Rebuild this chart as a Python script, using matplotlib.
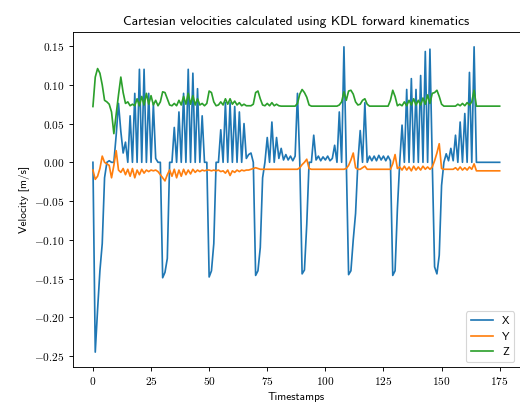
import numpy as np
import matplotlib
matplotlib.use("Agg")
import matplotlib.pyplot as plt
from matplotlib.ticker import FuncFormatter

x_vel = [
    0.0, -0.245, -0.19, -0.14, -0.105, -0.02, 0.0, 0.002, 0.0, 0.0,
    0.035, 0.076, 0.04, 0.012, 0.026, 0.0, 0.06, 0.0, 0.089, 0.0,
    0.12, 0.0, 0.12, 0.0, 0.089, 0.0, 0.075, 0.005, 0.0, 0.0,
    -0.149, -0.142, -0.124, 0.0, 0.0, 0.045, 0.0, 0.065, 0.0, 0.089,
    0.0, 0.12, 0.0, 0.115, 0.0, 0.095, 0.0, 0.06, 0.0, 0.0,
    -0.148, -0.14, -0.105, 0.0, 0.0, 0.042, 0.0, 0.077, 0.0, 0.077,
    0.0, 0.072, 0.0, 0.065, 0.0, 0.05, 0.005, 0.01, 0.012, 0.0,
    -0.146, -0.14, -0.11, -0.02, 0.0, 0.032, 0.0, 0.052, 0.0, 0.032,
    0.005, 0.018, 0.003, 0.01, 0.003, 0.008, 0.002, 0.008, 0.089, 0.0,
    -0.144, -0.139, -0.08, 0.0, 0.0, 0.035, 0.003, 0.008, 0.002, 0.007,
    0.003, 0.008, 0.002, 0.005, 0.022, 0.0, 0.065, 0.0, 0.149, 0.0,
    -0.145, -0.14, -0.1, -0.066, 0.0, 0.041, 0.0, 0.077, 0.0, 0.008,
    0.002, 0.008, 0.002, 0.009, 0.003, 0.008, 0.002, 0.008, 0.002, -0.146,
    -0.14, -0.06, 0.0, 0.048, 0.0, 0.094, 0.0, 0.108, 0.0, 0.094,
    0.0, 0.112, 0.0, 0.143, 0.0, 0.146, 0.0, -0.135, -0.144, -0.12,
    -0.03, 0.0, 0.011, 0.002, 0.018, 0.002, 0.035, 0.0, 0.052, 0.0,
    0.063, 0.0, 0.116, 0.0, 0.149, 0.0, 0.0, 0.0, 0.0, 0.0,
    0.0, 0.0, 0.0, 0.0, 0.0, 0.0,
]

y_vel = [
    -0.01, -0.022, -0.018, -0.008, 0.008, 0.0, -0.002, -0.004, -0.02, -0.004,
    0.015, -0.01, -0.013, -0.008, -0.016, -0.009, -0.018, -0.008, -0.02, -0.01,
    -0.016, -0.009, -0.014, -0.01, -0.012, -0.01, -0.011, -0.01, -0.012, -0.016,
    -0.02, -0.024, -0.016, -0.01, -0.018, -0.009, -0.02, -0.01, -0.018, -0.009,
    -0.016, -0.01, -0.015, -0.009, -0.013, -0.01, -0.012, -0.01, -0.011, -0.01,
    -0.01, -0.011, -0.01, -0.011, -0.01, -0.012, -0.011, -0.014, -0.01, -0.017,
    -0.011, -0.013, -0.01, -0.012, -0.01, -0.011, -0.01, -0.01, -0.009, -0.008,
    -0.007, -0.008, -0.009, -0.009, -0.009, -0.009, -0.009, -0.009, -0.009, -0.009,
    -0.009, -0.009, -0.009, -0.009, -0.009, -0.009, -0.009, -0.009, -0.009, -0.007,
    -0.003, 0.0, 0.004, -0.008, -0.009, -0.009, -0.009, -0.009, -0.009, -0.009,
    -0.009, -0.009, -0.009, -0.009, -0.009, -0.009, -0.009, -0.009, -0.009, -0.008,
    -0.004, 0.003, 0.012, -0.007, -0.009, -0.009, -0.007, -0.005, -0.009, -0.009,
    -0.009, -0.009, -0.009, -0.009, -0.009, -0.009, -0.009, -0.009, -0.009, -0.002,
    0.01, -0.008, -0.006, -0.01, -0.005, -0.01, -0.006, -0.011, -0.005, -0.01,
    -0.006, -0.01, -0.005, -0.009, -0.006, -0.009, -0.006, 0.002, 0.012, 0.024,
    -0.008, -0.009, -0.009, -0.009, -0.009, -0.009, -0.007, -0.01, -0.006, -0.01,
    -0.007, -0.01, -0.006, -0.009, -0.002, -0.011, -0.011, -0.011, -0.011, -0.011,
    -0.011, -0.011, -0.011, -0.011, -0.011, -0.011,
]

z_vel = [
    0.072, 0.11, 0.121, 0.115, 0.1, 0.08, 0.078, 0.075, 0.065, 0.037,
    0.062, 0.087, 0.11, 0.09, 0.076, 0.078, 0.073, 0.075, 0.073, 0.082,
    0.073, 0.085, 0.074, 0.089, 0.075, 0.086, 0.074, 0.08, 0.073, 0.078,
    0.091, 0.09, 0.082, 0.074, 0.073, 0.076, 0.073, 0.08, 0.074, 0.085,
    0.075, 0.089, 0.075, 0.086, 0.074, 0.082, 0.074, 0.076, 0.073, 0.076,
    0.092, 0.09, 0.078, 0.073, 0.074, 0.078, 0.074, 0.082, 0.075, 0.082,
    0.075, 0.079, 0.074, 0.077, 0.073, 0.075, 0.073, 0.073, 0.073, 0.075,
    0.09, 0.092, 0.082, 0.074, 0.073, 0.076, 0.073, 0.077, 0.073, 0.075,
    0.073, 0.0725, 0.0725, 0.0725, 0.0725, 0.0725, 0.0725, 0.0725, 0.076, 0.088,
    0.094, 0.09, 0.084, 0.074, 0.0725, 0.0725, 0.0725, 0.0725, 0.0725, 0.0725,
    0.0725, 0.0725, 0.0725, 0.0725, 0.0725, 0.0725, 0.074, 0.078, 0.091, 0.08,
    0.092, 0.093, 0.088, 0.078, 0.074, 0.075, 0.08, 0.082, 0.075, 0.0725,
    0.0725, 0.0725, 0.0725, 0.0725, 0.0725, 0.0725, 0.0725, 0.0725, 0.08, 0.093,
    0.085, 0.073, 0.075, 0.073, 0.078, 0.073, 0.08, 0.074, 0.082, 0.074,
    0.08, 0.074, 0.083, 0.075, 0.087, 0.076, 0.089, 0.09, 0.093, 0.085,
    0.075, 0.0725, 0.0725, 0.0725, 0.0725, 0.0725, 0.0725, 0.075, 0.073, 0.076,
    0.073, 0.077, 0.074, 0.078, 0.093, 0.0725, 0.0725, 0.0725, 0.0725, 0.0725,
    0.0725, 0.0725, 0.0725, 0.0725, 0.0725, 0.0725,
]

series_labels = ["X", "Y", "Z"]
title_text = "Cartesian velocities calculated using KDL forward kinematics"
x_label = "Timestamps"
y_label = "Velocity [m/s]"

plt.rcParams["mathtext.fontset"] = "cm"
plt.rcParams["font.family"] = ["cmss10", "DejaVu Sans"]
plt.rcParams["axes.unicode_minus"] = False

fig = plt.figure(figsize=(6.4, 4.96), dpi=81.25)
ax = fig.add_axes([72.6 / 520, (403 - 367.4) / 403, (520 - 72.6) / 520, 335.8 / 403])

t = np.arange(len(x_vel))
for vals, lab in zip([x_vel, y_vel, z_vel], series_labels):
    ax.plot(t, vals, label=lab)

ax.set_title(title_text)
ax.set_xlabel(x_label)
ax.set_ylabel(y_label)
ax.xaxis.set_major_formatter(FuncFormatter(lambda v, p: "$%d$" % int(round(v))))
ax.yaxis.set_major_formatter(FuncFormatter(lambda v, p: "$%.2f$" % v))
ax.legend(loc="lower right")

fig.savefig("out.png", dpi=81.25)
